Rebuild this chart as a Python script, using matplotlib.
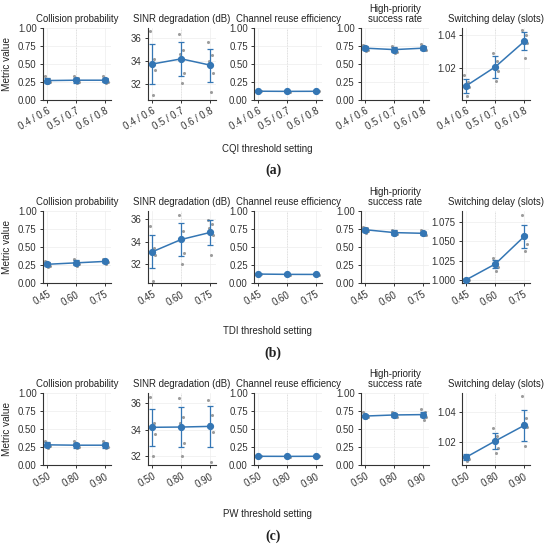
import matplotlib
matplotlib.use("Agg")
import matplotlib.pyplot as plt
import numpy as np

plt.rcParams['font.family'] = ['Liberation Sans', 'DejaVu Sans']

# ---------------- data ----------------
titles = ["Collision probability", "SINR degradation (dB)", "Channel reuse efficiency",
          "High-priority\nsuccess rate", "Switching delay (slots)"]
row_xlabels = ["CQI threshold setting", "TDI threshold setting", "PW threshold setting"]
row_tags = ["(a)", "(b)", "(c)"]
cqi_labels = ["0.4 / 0.6", "0.5 / 0.7", "0.6 / 0.8"]
tdi_labels = ["0.45", "0.60", "0.75"]
pw_labels = ["0.50", "0.80", "0.90"]

# Row (a) CQI
a_coll_mean = [0.270, 0.275, 0.275]
a_coll_std = [0.030, 0.035, 0.030]
a_coll_pts = [[0.33, 0.29, 0.27, 0.25, 0.23], [0.34, 0.30, 0.27, 0.25, 0.23], [0.33, 0.29, 0.27, 0.25, 0.24]]
a_sinr_mean = [33.75, 34.20, 33.65]
a_sinr_std = [1.75, 1.50, 1.45]
a_sinr_pts = [[36.6, 34.2, 33.8, 33.2, 31.0], [36.4, 35.0, 34.6, 33.0, 32.1], [35.7, 34.5, 34.0, 33.0, 31.3]]
a_reuse_mean = [0.122, 0.120, 0.121]
a_reuse_std = [0.004, 0.004, 0.004]
a_reuse_pts = [[0.127, 0.124, 0.122, 0.120, 0.117], [0.125, 0.122, 0.120, 0.118, 0.116], [0.126, 0.123, 0.121, 0.119, 0.117]]
a_hp_mean = [0.72, 0.70, 0.72]
a_hp_std = [0.030, 0.035, 0.025]
a_hp_pts = [[0.77, 0.74, 0.72, 0.70, 0.68], [0.75, 0.72, 0.69, 0.67, 0.65], [0.78, 0.74, 0.72, 0.70, 0.70]]
a_sw_mean = [1.0090, 1.0205, 1.0360]
a_sw_std = [0.0042, 0.0065, 0.0055]
a_sw_pts = [[1.0155, 1.0110, 1.0090, 1.0080, 1.0030], [1.0290, 1.0240, 1.0210, 1.0180, 1.0120],
            [1.0430, 1.0400, 1.0370, 1.0350, 1.0260]]

# Row (b) TDI
b_coll_mean = [0.260, 0.280, 0.300]
b_coll_std = [0.030, 0.035, 0.020]
b_coll_pts = [[0.31, 0.28, 0.26, 0.24, 0.22], [0.34, 0.30, 0.28, 0.26, 0.23], [0.33, 0.31, 0.30, 0.29, 0.27]]
b_sinr_mean = [33.10, 34.20, 34.83]
b_sinr_std = [1.50, 1.50, 1.12]
b_sinr_pts = [[35.4, 33.4, 33.2, 32.8, 30.5], [36.4, 35.0, 34.3, 33.0, 32.0], [35.9, 35.6, 35.2, 34.6, 32.8]]
b_reuse_mean = [0.124, 0.120, 0.119]
b_reuse_std = [0.004, 0.004, 0.004]
b_reuse_pts = [[0.129, 0.126, 0.124, 0.122, 0.119], [0.125, 0.122, 0.120, 0.118, 0.115], [0.124, 0.121, 0.119, 0.117, 0.114]]
b_hp_mean = [0.74, 0.70, 0.69]
b_hp_std = [0.030, 0.030, 0.025]
b_hp_pts = [[0.78, 0.76, 0.74, 0.72, 0.70], [0.74, 0.72, 0.70, 0.68, 0.66], [0.73, 0.71, 0.69, 0.67, 0.66]]
b_sw_mean = [1.0000, 1.0205, 1.0565]
b_sw_std = [0.0005, 0.0055, 0.0155]
b_sw_pts = [[1.0010, 1.0003, 1.0000, 0.9998, 0.9996], [1.0280, 1.0220, 1.0200, 1.0170, 1.0120],
            [1.0840, 1.0580, 1.0550, 1.0460, 1.0370]]

# Row (c) PW
c_coll_mean = [0.280, 0.275, 0.275]
c_coll_std = [0.035, 0.035, 0.035]
c_coll_pts = [[0.34, 0.30, 0.28, 0.26, 0.24], [0.33, 0.29, 0.27, 0.25, 0.23], [0.33, 0.30, 0.27, 0.25, 0.24]]
c_sinr_mean = [34.18, 34.20, 34.25]
c_sinr_std = [1.40, 1.50, 1.55]
c_sinr_pts = [[36.5, 34.5, 34.3, 33.7, 32.0], [36.4, 35.0, 34.5, 33.0, 32.0], [36.3, 35.1, 34.4, 33.8, 31.5]]
c_reuse_mean = [0.121, 0.120, 0.121]
c_reuse_std = [0.004, 0.004, 0.004]
c_reuse_pts = [[0.126, 0.123, 0.121, 0.119, 0.116], [0.125, 0.122, 0.120, 0.118, 0.115], [0.126, 0.123, 0.121, 0.119, 0.116]]
c_hp_mean = [0.680, 0.695, 0.700]
c_hp_std = [0.020, 0.025, 0.035]
c_hp_pts = [[0.73, 0.70, 0.68, 0.66, 0.65], [0.73, 0.71, 0.69, 0.67, 0.66], [0.78, 0.73, 0.70, 0.66, 0.63]]
c_sw_mean = [1.0095, 1.0205, 1.0311]
c_sw_std = [0.0018, 0.0055, 0.0108]
c_sw_pts = [[1.0105, 1.0100, 1.0090, 1.0080, 1.0070], [1.0290, 1.0240, 1.0210, 1.0160, 1.0120],
            [1.0510, 1.0360, 1.0330, 1.0300, 1.0170]]

rows = [
    (cqi_labels, [(a_coll_mean, a_coll_std, a_coll_pts), (a_sinr_mean, a_sinr_std, a_sinr_pts),
                  (a_reuse_mean, a_reuse_std, a_reuse_pts), (a_hp_mean, a_hp_std, a_hp_pts),
                  (a_sw_mean, a_sw_std, a_sw_pts)]),
    (tdi_labels, [(b_coll_mean, b_coll_std, b_coll_pts), (b_sinr_mean, b_sinr_std, b_sinr_pts),
                  (b_reuse_mean, b_reuse_std, b_reuse_pts), (b_hp_mean, b_hp_std, b_hp_pts),
                  (b_sw_mean, b_sw_std, b_sw_pts)]),
    (pw_labels, [(c_coll_mean, c_coll_std, c_coll_pts), (c_sinr_mean, c_sinr_std, c_sinr_pts),
                 (c_reuse_mean, c_reuse_std, c_reuse_pts), (c_hp_mean, c_hp_std, c_hp_pts),
                 (c_sw_mean, c_sw_std, c_sw_pts)]),
]

# ---------------- style / layout ----------------
W, H = 550, 547
fig = plt.figure(figsize=(W / 100, H / 100), dpi=100)
blue = '#3476b4'
FS = 6.9

col_left = [43, 148, 254, 361, 462]
col_w = 68
row_top = [28, 211, 393]
row_h = 72
row_xlab_y = [149, 331, 514]
row_tag_y = [170, 353, 536]

sinr_ylims = [(30.6, 36.9), (30.3, 36.75), (31.3, 36.8)]
sw_ylims = [(1.0003, 1.0442), (0.9957, 1.0897), (1.0041, 1.0532)]
sw_ticks = [[1.02, 1.04], [1.000, 1.025, 1.050, 1.075], [1.02, 1.04]]
sw_fmt = ['%.2f', '%.3f', '%.2f']
jit = np.array([-0.07, 0.05, -0.03, 0.08, 0.02])

for r, (xlabels, panels) in enumerate(rows):
    x = np.arange(len(xlabels))
    for c, (mean, std, pts) in enumerate(panels):
        left = col_left[c] / W
        bottom = 1 - (row_top[r] + row_h) / H
        ax = fig.add_axes([left, bottom, col_w / W, row_h / H])
        ax.grid(True, color='#ededed', lw=0.5, zorder=0)
        ax.axvline(x[1], color='#bdbdbd', lw=0.7, ls=':', zorder=0.5)
        for i in range(len(x)):
            ax.scatter(x[i] + jit, pts[i], s=5, color='#8c8c8c', alpha=0.85, lw=0, zorder=2)
        ax.errorbar(x, mean, yerr=std, color=blue, lw=1.1, marker='o', ms=4.2,
                    capsize=2, capthick=0.9, elinewidth=0.9, zorder=3)
        ax.set_xlim(-0.15, 2.2)
        ax.set_xticks(x)
        ax.set_xticklabels(xlabels, rotation=30, ha='right', rotation_mode='anchor', fontsize=FS)
        if c in (0, 2, 3):
            ax.set_ylim(0, 1)
            ax.set_yticks([0, 0.25, 0.5, 0.75, 1.0])
            ax.yaxis.set_major_formatter(matplotlib.ticker.FormatStrFormatter('%.2f'))
        elif c == 1:
            ax.set_ylim(*sinr_ylims[r])
            ax.set_yticks([32, 34, 36])
        else:
            ax.set_ylim(*sw_ylims[r])
            ax.set_yticks(sw_ticks[r])
            ax.yaxis.set_major_formatter(matplotlib.ticker.FormatStrFormatter(sw_fmt[r]))
        ax.tick_params(labelsize=FS, length=2.5, width=0.7, pad=2, colors='#333333')
        for s in ('top', 'right'):
            ax.spines[s].set_visible(False)
        for s in ('left', 'bottom'):
            ax.spines[s].set_linewidth(0.8)
            ax.spines[s].set_color('#333333')
        ax.set_title(titles[c], fontsize=FS, pad=4, linespacing=1.1, color='#222222')
        if c == 0:
            ax.set_ylabel("Metric value", fontsize=FS + 0.3, labelpad=4, color='#222222')
    fig.text(267 / W, 1 - row_xlab_y[r] / H, row_xlabels[r], ha='center', va='center',
             fontsize=FS, color='#222222')
    fig.text(273 / W, 1 - row_tag_y[r] / H, row_tags[r], ha='center', va='center', fontsize=10,
             family=['Liberation Serif', 'DejaVu Serif'], fontweight='bold', color='#222222')

fig.savefig('out.png', dpi=100)
